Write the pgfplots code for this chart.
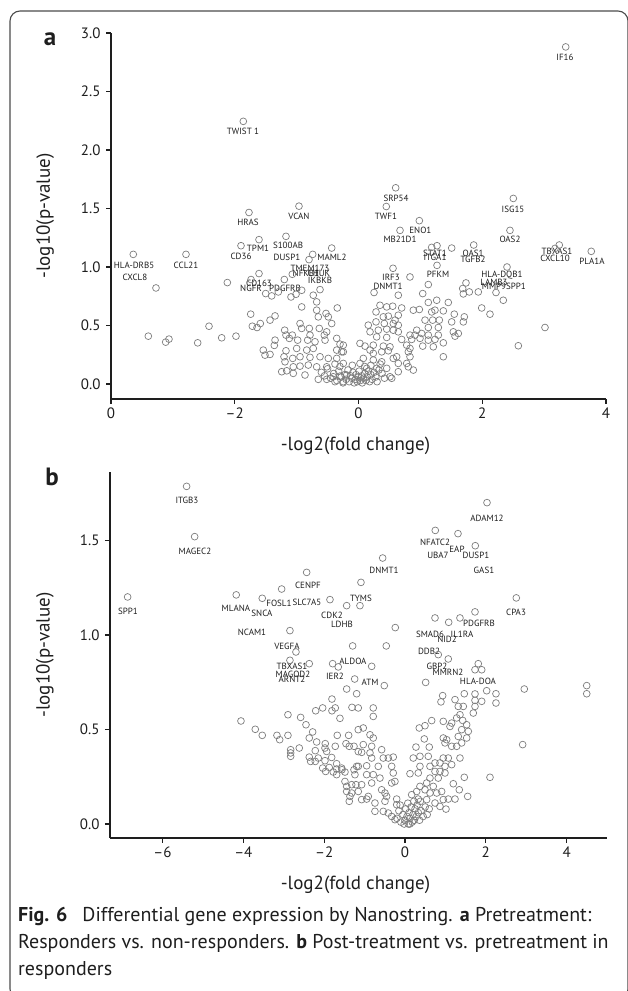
\documentclass[border=0pt]{standalone}
\usepackage{fontspec}
\setmainfont{PT Sans}
\usepackage{pgfplots}
\pgfplotsset{compat=1.18}

\definecolor{pt}{RGB}{125,125,125}
\definecolor{ink}{RGB}{30,30,30}

\pgfplotsset{
  volcano/.style={
    scale only axis,
    clip=false,
    axis x line=bottom,
    axis y line=left,
    axis line style={-, line width=1.3pt, ink},
    tick style={line width=1.1pt, ink},
    tick align=outside,
    major tick length=5pt,
    ticklabel style={font=\fontsize{15}{16}\selectfont, text=ink},
    yticklabel style={xshift=-2pt},
    label style={font=\fontsize{19}{21}\selectfont, text=ink},
  },
  pts/.style={only marks, mark=o, mark size=3.4pt, color=pt, mark options={line width=0.7pt}},
}
\tikzset{gene/.style={font=\fontsize{9}{10}\selectfont, inner sep=0pt, text=ink}}

\begin{document}
\begin{tikzpicture}

% ---------------- panel a ----------------
\begin{axis}[volcano,
  at={(111pt,592pt)}, anchor=south west,
  width=495pt, height=366pt,
  xmin=-4, xmax=4, ymin=-0.128, ymax=3.0,
  xtick={-4,-2,0,2,4}, xticklabels={0,--2,0,2,4},
  ytick={0,0.5,1,1.5,2,2.5,3}, yticklabels={0.0,0.5,1.0,1.5,2.0,2.5,3.0},
  xlabel={-log2(fold change)}, ylabel={-log10(p-value)},
  xlabel style={at={(axis description cs:0.494,-0.128)}, anchor=center},
  ylabel style={at={(axis description cs:-0.133,0.5)}, anchor=center},
]
\addplot[pts] table {
x y
-1.862 2.245
-1.770 1.466
-0.962 1.520
-1.608 1.234
-1.172 1.262
3.349 2.881
0.601 1.677
0.449 1.517
0.983 1.396
0.671 1.313
2.502 1.586
2.448 1.313
-0.433 1.162
1.183 1.168
1.269 1.182
1.506 1.162
1.862 1.188
3.245 1.188
3.176 1.159
3.762 1.134
1.269 1.014
2.400 1.000
0.558 0.989
0.832 0.915
-3.640 1.108
-2.788 1.108
-3.273 0.821
-1.899 1.182
-0.740 1.108
-0.800 1.063
-1.070 0.938
-1.608 0.944
-2.120 0.867
-1.737 0.893
-1.199 0.893
-0.918 0.801
-0.622 0.807
-1.500 0.773
-1.403 0.753
-1.296 0.787
-1.091 0.744
-1.010 0.767
-0.731 0.759
-0.918 0.659
-0.676 0.702
-0.343 0.650
-0.525 0.603
-0.676 0.631
-0.650 0.574
-0.488 0.574
-0.433 0.517
-1.742 0.597
-1.716 0.494
-1.640 0.483
-1.587 0.517
-1.430 0.546
-1.349 0.582
-2.416 0.494
-3.397 0.409
-3.116 0.358
-3.063 0.384
-2.599 0.352
-2.211 0.395
-1.980 0.409
-1.193 0.460
-1.172 0.418
-1.118 0.390
-1.070 0.418
-0.945 0.517
-0.918 0.475
-0.795 0.475
-0.634 0.475
-0.784 0.418
-0.553 0.418
-0.983 0.375
-0.821 0.375
-0.703 0.361
-0.541 0.375
-0.514 0.446
-0.352 0.390
-0.299 0.341
-0.246 0.332
-0.352 0.290
-0.272 0.275
-1.349 0.375
-1.361 0.330
-1.539 0.290
-1.511 0.247
-1.430 0.253
-1.172 0.284
-1.204 0.233
-0.999 0.304
-0.837 0.290
-0.731 0.304
-0.945 0.233
-0.784 0.228
-0.622 0.233
-0.488 0.219
-0.352 0.219
-1.188 0.190
-1.063 0.219
-1.054 0.147
-0.945 0.153
-0.811 0.162
-0.676 0.147
-0.514 0.147
-0.380 0.171
-0.246 0.176
-1.241 0.105
-1.160 0.113
-1.054 0.091
-0.865 0.077
-0.650 0.040
-0.514 0.040
-0.407 0.062
-0.299 0.068
-0.191 0.077
-0.380 0.020
-0.246 0.020
-0.246 0.275
1.128 0.850
1.737 0.864
1.684 0.816
1.791 0.787
1.694 0.770
1.936 0.787
2.222 0.782
0.251 0.782
0.643 0.759
1.038 0.773
2.340 0.716
1.264 0.716
1.128 0.697
1.451 0.697
0.347 0.673
0.456 0.659
0.553 0.665
0.698 0.650
0.886 0.631
0.983 0.637
1.183 0.616
1.236 0.631
1.371 0.625
1.991 0.650
2.125 0.597
0.283 0.616
0.401 0.574
0.482 0.580
0.643 0.588
0.590 0.546
0.283 0.531
0.417 0.517
0.562 0.517
0.643 0.503
1.075 0.546
1.199 0.546
1.306 0.546
1.548 0.597
1.710 0.574
1.694 0.531
1.506 0.531
3.014 0.483
0.158 0.503
0.186 0.446
0.320 0.460
0.456 0.469
0.562 0.460
0.643 0.446
0.941 0.460
1.128 0.483
1.290 0.483
1.532 0.446
1.613 0.432
1.560 0.409
0.832 0.418
0.913 0.418
1.021 0.432
1.128 0.418
1.290 0.418
0.294 0.403
0.456 0.398
0.698 0.381
0.860 0.381
0.994 0.390
1.128 0.375
1.236 0.381
1.371 0.352
2.583 0.327
0.024 0.347
0.105 0.324
0.239 0.332
0.401 0.324
0.509 0.318
0.779 0.332
0.832 0.304
1.038 0.324
1.209 0.318
0.186 0.290
0.239 0.262
0.375 0.275
0.482 0.284
0.617 0.233
0.805 0.275
0.832 0.233
1.371 0.233
0.078 0.219
0.239 0.205
0.375 0.190
0.562 0.219
0.643 0.176
0.779 0.176
0.886 0.119
0.805 0.147
0.024 0.176
0.133 0.134
0.294 0.134
0.456 0.134
0.643 0.105
0.509 0.062
0.537 0.049
-0.45 0.05
-0.40 0.09
-0.35 0.03
-0.32 0.11
-0.28 0.06
-0.25 0.01
-0.22 0.08
-0.20 0.04
-0.17 0.12
-0.15 0.02
-0.13 0.07
-0.11 0.05
-0.09 0.10
-0.07 0.01
-0.05 0.04
-0.04 0.08
-0.02 0.02
0.00 0.06
0.01 0.11
0.03 0.03
0.05 0.07
0.06 0.01
0.08 0.05
0.10 0.09
0.12 0.03
0.14 0.06
0.16 0.11
0.18 0.02
0.20 0.08
0.22 0.04
0.25 0.10
0.28 0.06
0.30 0.02
0.33 0.12
-0.60 0.10
-0.55 0.07
0.38 0.09
0.42 0.05
-0.30 0.15
-0.10 0.16
0.10 0.15
0.20 0.16
-0.50 0.13
0.35 0.17
};
\node[gene] at (axis cs:-1.867,2.157) {TWIST 1};
\node[gene] at (axis cs:-1.786,1.381) {HRAS};
\node[gene] at (axis cs:-0.962,1.432) {VCAN};
\node[gene] at (axis cs:3.337,2.788) {IF16};
\node[gene] at (axis cs:0.606,1.586) {SRP54};
\node[gene] at (axis cs:0.444,1.432) {TWF1};
\node[gene] at (axis cs:1.000,1.313) {ENO1};
\node[gene] at (axis cs:0.671,1.236) {MB21D1};
\node[gene] at (axis cs:2.497,1.492) {ISG15};
\node[gene] at (axis cs:2.448,1.236) {OAS2};
\node[gene] at (axis cs:-3.628,1.014) {HLA-DRB5};
\node[gene] at (axis cs:-3.612,0.912) {CXCL8};
\node[gene] at (axis cs:-2.788,1.014) {CCL21};
\node[gene] at (axis cs:-1.899,1.091) {CD36};
\node[gene] at (axis cs:-1.624,1.159) {TPM1};
\node[gene] at (axis cs:-1.139,1.185) {S100AB};
\node[gene] at (axis cs:-1.156,1.083) {DUSP1};
\node[gene] at (axis cs:-0.428,1.083) {MAML2};
\node[gene] at (axis cs:-0.784,0.989) {TMEM173};
\node[gene] at (axis cs:-0.850,0.947) {NFKB1};
\node[gene] at (axis cs:-0.640,0.947) {CHUK};
\node[gene] at (axis cs:-0.622,0.887) {IKBKB};
\node[gene] at (axis cs:-1.608,0.861) {CD163};
\node[gene] at (axis cs:-1.737,0.818) {NGFR};
\node[gene] at (axis cs:-1.188,0.818) {PDGFRB};
\node[gene] at (axis cs:0.525,0.912) {IRF3};
\node[gene] at (axis cs:0.477,0.835) {DNMT1};
\node[gene] at (axis cs:1.236,1.117) {STAT1};
\node[gene] at (axis cs:1.236,1.083) {ITGA1};
\node[gene] at (axis cs:1.851,1.117) {OAS1};
\node[gene] at (axis cs:1.851,1.066) {TGFB2};
\node[gene] at (axis cs:1.285,0.938) {PFKM};
\node[gene] at (axis cs:3.208,1.134) {TBXAS1};
\node[gene] at (axis cs:3.176,1.074) {CXCL10};
\node[gene] at (axis cs:3.774,1.049) {PLA1A};
\node[gene] at (axis cs:2.319,0.929) {HLA-DQB1};
\node[gene] at (axis cs:2.190,0.870) {LAMB3};
\node[gene] at (axis cs:2.190,0.835) {MMP9};
\node[gene] at (axis cs:2.545,0.835) {SPP1};
\end{axis}

% ---------------- panel b ----------------
\begin{axis}[volcano,
  at={(110pt,153pt)}, anchor=south west,
  width=497pt, height=366pt,
  xmin=-7.3, xmax=5, ymin=-0.074, ymax=1.862,
  xtick={-6,-4,-2,0,2,4}, xticklabels={--6,--4,--2,0,2,4},
  ytick={0,0.5,1,1.5}, yticklabels={0.0,0.5,1.0,1.5},
  xlabel={-log2(fold change)}, ylabel={-log10(p-value)},
  xlabel style={at={(axis description cs:0.494,-0.128)}, anchor=center},
  ylabel style={at={(axis description cs:-0.131,0.5)}, anchor=center},
]
\addplot[pts] table {
x y
-5.404 1.786
-5.205 1.520
-6.864 1.201
-4.176 1.212
-3.532 1.194
-3.052 1.243
-2.433 1.331
-2.847 1.023
-2.698 0.910
2.030 1.700
0.750 1.553
1.312 1.536
1.740 1.472
-0.552 1.407
-1.089 1.278
-1.856 1.187
-1.443 1.155
-1.114 1.155
2.755 1.196
1.733 1.122
0.743 1.090
1.082 1.067
1.361 1.090
-0.240 1.039
-1.295 0.942
-0.463 0.942
-2.847 0.866
-2.369 0.848
-1.790 0.848
-1.651 0.831
-1.245 0.767
-1.443 0.714
-1.196 0.689
-1.807 0.661
-1.312 0.617
-1.725 0.614
-1.807 0.599
-2.210 0.599
-2.037 0.614
-2.896 0.578
-2.582 0.564
-1.609 0.559
-2.450 0.525
-4.059 0.545
-3.705 0.501
-3.532 0.469
-3.168 0.469
-2.896 0.469
-3.101 0.446
-2.369 0.455
-2.285 0.487
-2.186 0.434
-1.973 0.425
-1.676 0.469
-1.394 0.469
-1.460 0.425
-1.379 0.411
-1.725 0.411
-1.262 0.411
-1.980 0.402
-1.938 0.384
-2.616 0.402
-2.829 0.393
-2.829 0.376
-2.829 0.358
-2.220 0.388
-2.369 0.354
-2.334 0.331
-2.220 0.331
-2.146 0.349
-1.814 0.352
-1.980 0.335
-1.691 0.319
-1.567 0.296
-1.691 0.291
-1.874 0.299
-2.037 0.296
-1.963 0.278
-1.775 0.275
-1.485 0.275
-1.559 0.287
-1.691 0.261
-1.485 0.225
-1.443 0.199
-1.319 0.208
-1.213 0.208
-1.443 0.172
-1.361 0.146
-1.379 0.120
-1.156 0.172
-1.262 0.287
-1.238 0.261
-1.156 0.383
-1.156 0.305
-1.156 0.499
-1.156 0.614
-0.824 0.834
-0.512 0.732
-0.785 0.614
-0.785 0.569
0.824 0.896
1.072 0.873
0.512 0.749
1.814 0.848
1.733 0.816
1.899 0.816
4.498 0.732
4.498 0.689
2.953 0.714
2.913 0.420
2.104 0.247
1.468 0.247
1.552 0.146
2.022 0.705
2.252 0.689
2.252 0.640
1.899 0.649
1.733 0.688
1.733 0.654
1.733 0.622
1.691 0.587
1.468 0.689
1.443 0.622
1.319 0.622
1.238 0.658
0.933 0.679
0.891 0.646
1.280 0.561
1.361 0.578
1.428 0.548
1.527 0.525
1.567 0.490
1.527 0.455
1.403 0.499
1.319 0.463
1.403 0.429
1.280 0.411
1.156 0.411
1.032 0.446
0.948 0.455
0.990 0.429
1.156 0.534
1.114 0.516
0.948 0.543
0.661 0.547
0.495 0.520
0.354 0.508
0.478 0.450
0.601 0.407
0.272 0.407
0.205 0.349
0.371 0.358
0.577 0.358
0.371 0.305
0.124 0.266
0.329 0.270
0.619 0.305
0.743 0.323
0.866 0.323
0.948 0.349
1.072 0.349
1.156 0.314
0.990 0.305
0.866 0.278
0.743 0.278
0.990 0.270
1.361 0.349
1.196 0.213
1.344 0.181
0.619 0.243
0.824 0.243
0.537 0.217
0.700 0.199
0.495 0.181
0.619 0.164
0.785 0.164
0.908 0.172
1.072 0.132
1.238 0.132
0.371 0.199
0.290 0.172
0.166 0.155
0.329 0.132
0.537 0.129
0.743 0.111
0.948 0.129
0.866 0.093
1.015 0.079
-1.032 0.420
-0.824 0.411
-1.032 0.508
-0.866 0.472
-0.785 0.455
-1.072 0.379
-0.866 0.376
-0.577 0.393
-0.537 0.349
-0.413 0.349
-0.290 0.354
-0.824 0.349
-1.196 0.305
-0.948 0.308
-0.661 0.305
-0.329 0.305
-0.948 0.261
-0.785 0.261
-0.619 0.243
-0.290 0.270
-0.329 0.217
-0.248 0.225
-1.072 0.208
-0.824 0.217
-0.577 0.181
-1.319 0.164
-0.908 0.146
-0.495 0.164
-0.453 0.146
-1.072 0.129
-0.948 0.132
-0.743 0.111
-0.495 0.120
-0.205 0.132
-0.743 0.067
-0.537 0.067
-0.413 0.058
-0.205 0.102
-0.329 0.040
-0.248 0.023
-0.20 0.03
-0.15 0.07
-0.10 0.01
-0.05 0.05
0.00 0.02
0.02 0.08
0.05 0.04
0.08 0.00
0.10 0.06
0.12 0.03
0.15 0.09
0.18 0.01
0.20 0.05
0.23 0.02
0.25 0.08
0.28 0.04
0.30 0.10
0.33 0.06
0.36 0.02
0.40 0.07
0.45 0.04
0.50 0.09
0.55 0.05
0.60 0.08
-0.12 0.10
0.07 0.11
0.22 0.12
0.38 0.12
0.12 0.00
-0.02 0.00
};
\node[gene] at (axis cs:-5.396,1.711) {ITGB3};
\node[gene] at (axis cs:-5.198,1.441) {MAGEC2};
\node[gene] at (axis cs:-6.856,1.123) {SPP1};
\node[gene] at (axis cs:-4.183,1.139) {MLANA};
\node[gene] at (axis cs:-3.540,1.113) {SNCA};
\node[gene] at (axis cs:-3.119,1.169) {FOSL1};
\node[gene] at (axis cs:-2.426,1.171) {SLC7A5};
\node[gene] at (axis cs:-2.401,1.261) {CENPF};
\node[gene] at (axis cs:-1.089,1.191) {TYMS};
\node[gene] at (axis cs:-1.807,1.102) {CDK2};
\node[gene] at (axis cs:-1.559,1.054) {LDHB};
\node[gene] at (axis cs:-0.520,1.340) {DNMT1};
\node[gene] at (axis cs:0.743,1.488) {NFATC2};
\node[gene] at (axis cs:1.287,1.451) {EAP};
\node[gene] at (axis cs:0.817,1.420) {UBA7};
\node[gene] at (axis cs:1.757,1.420) {DUSP1};
\node[gene] at (axis cs:1.955,1.340) {GAS1};
\node[gene] at (axis cs:2.030,1.615) {ADAM12};
\node[gene] at (axis cs:2.748,1.117) {CPA3};
\node[gene] at (axis cs:1.832,1.059) {PDGFRB};
\node[gene] at (axis cs:0.619,1.001) {SMAD6};
\node[gene] at (axis cs:1.411,1.001) {IL1RA};
\node[gene] at (axis cs:1.040,0.975) {NID2};
\node[gene] at (axis cs:0.594,0.912) {DDB2};
\node[gene] at (axis cs:-3.787,1.012) {NCAM1};
\node[gene] at (axis cs:-2.921,0.938) {VEGFA};
\node[gene] at (axis cs:-2.797,0.832) {TBXAS1};
\node[gene] at (axis cs:-2.772,0.790) {MAGOD2};
\node[gene] at (axis cs:-2.797,0.764) {ARNT2};
\node[gene] at (axis cs:-1.733,0.779) {IER2};
\node[gene] at (axis cs:-1.287,0.859) {ALDOA};
\node[gene] at (axis cs:-0.866,0.748) {ATM};
\node[gene] at (axis cs:0.792,0.832) {GBP2};
\node[gene] at (axis cs:1.064,0.801) {MMRN2};
\node[gene] at (axis cs:1.807,0.753) {HLA-DOA};
\end{axis}

% panel letters
\node[font=\fontsize{25}{26}\selectfont\bfseries, text=ink] at (50pt,952pt) {a};
\node[font=\fontsize{25}{26}\selectfont\bfseries, text=ink] at (52pt,514pt) {b};

% caption
\begin{scope}[every node/.style={anchor=base west, inner sep=0pt, font=\fontsize{20}{22}\selectfont, text=ink}]
\node at (18pt,69pt) {\textbf{Fig. 6}\hspace{0.75em}Differential gene expression by Nanostring. \textbf{a} Pretreatment:};
\node at (18pt,42pt) {Responders vs. non-responders. \textbf{b} Post-treatment vs. pretreatment in};
\node at (18pt,16pt) {responders};
\end{scope}

% frame and page size
\draw[rounded corners=10pt, line width=1.1pt, black!70] (10pt,-8pt) rectangle (628pt,980pt);
\pgfresetboundingbox
\path[use as bounding box] (0pt,0pt) rectangle (627pt,991pt);
\end{tikzpicture}
\end{document}
